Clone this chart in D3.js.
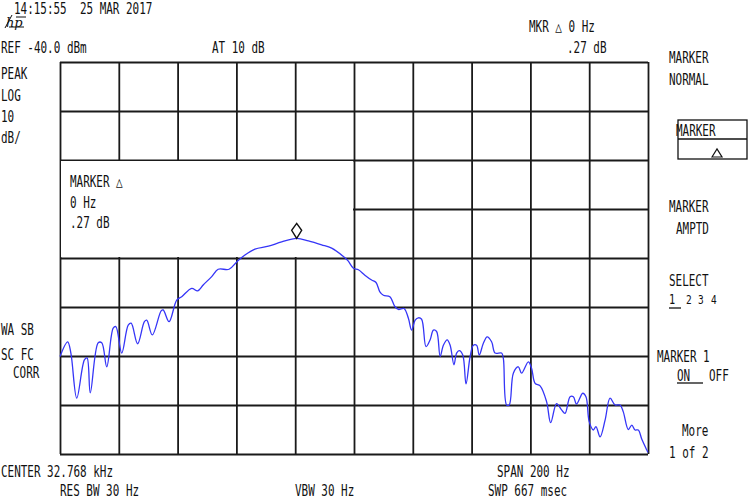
<!DOCTYPE html>
<html><head><meta charset="utf-8">
<script src="https://cdn.jsdelivr.net/npm/d3@7"></script>
<style>html,body{margin:0;padding:0;background:#fff;}svg{display:block;}text{white-space:pre;}</style>
</head><body>
<script>
// ---- data ----
const freqOffsetHz = [-100,-97.4,-96.3,-94.3,-91.7,-90.8,-89.7,-87.0,-85.8,-84.1,-81.9,-81.0,-79.0,-76.8,-75.8,-73.6,-71.3,-70.5,-68.6,-65.6,-64.9,-62.9,-60.3,-58.6,-55.2,-53.2,-51.3,-48.4,-46.2,-42.5,-39.9,-37.1,-33.7,-29.1,-24.6,-19.5,-15.5,-11.0,-7.6,-3.6,-2.0,-0.2,1.5,3.7,6.0,7.5,8.8,10.0,12.2,13.9,15.1,17.0,18.5,19.6,20.8,21.9,23.0,24.5,25.9,27.0,28.1,29.3,30.4,31.7,32.7,34.0,34.9,35.8,37.0,38.1,39.5,40.6,41.7,42.6,44.0,45.3,46.8,48.0,50.2,50.8,51.9,52.8,54.2,55.9,57.0,59.3,60.4,61.6,63.3,65.5,66.9,68.9,70.6,71.8,73.5,74.6,75.7,77.8,78.9,80.0,81.4,82.3,83.7,85.4,87.1,88.8,90.5,91.6,93.3,94.5,95.6,96.7,97.9,99.6,100];
const levelDbm = [-100.1,-97.1,-99.4,-108.6,-100.8,-100.4,-107.5,-97.3,-97.3,-102.2,-94.3,-94.0,-99.4,-93.7,-93.3,-97.5,-93.0,-92.7,-95.7,-90.8,-90.6,-93.0,-88.6,-87.9,-86.2,-86.7,-85.5,-83.8,-82.3,-82.3,-80.8,-79.4,-78.2,-77.6,-76.7,-76.0,-76.5,-77.3,-78.0,-79.7,-80.6,-82.1,-82.4,-83.5,-84.5,-85.0,-86.9,-87.6,-87.9,-89.9,-90.5,-90.3,-92.3,-94.7,-92.7,-92.2,-92.5,-98.1,-96.7,-94.7,-95.0,-100.1,-97.8,-96.7,-97.8,-101.8,-99.4,-98.9,-99.8,-105.7,-100.1,-97.8,-97.8,-99.8,-97.4,-96.1,-97.1,-99.4,-99.4,-100.5,-110.0,-110.0,-103.5,-102.2,-103.5,-101.2,-102.5,-105.6,-106.1,-109.3,-113.6,-109.7,-111.0,-111.7,-108.3,-108.3,-109.8,-107.6,-108.3,-113.4,-115.1,-114.4,-116.5,-113.1,-108.6,-110.0,-110.0,-111.4,-115.0,-114.1,-115.1,-115.1,-117.0,-119.2,-119.7];
const spanHz = [-100, 100];
const refLevelDbm = -40;
const dbPerDiv = 10;
const numDivY = 8;
const markerFreqHz = -19.5;
const markerLevelDbm = -76.0;

const headerLines = [["14:15:55  25 MAR 2017",14,14],["REF -40.0 dBm",1,53],["AT 10 dB",212,53],["MKR \u25B3 0 Hz",529,32],[".27 dB",567,53]];
const leftLines = [["PEAK",1,79],["LOG",1,101],["10",1,122],["dB/",1,143],["WA SB",1,335],["SC FC",1,360],["CORR",13,378]];
const bottomLines = [["CENTER 32.768 kHz",1,477],["RES BW 30 Hz",60,496],["VBW 30 Hz",295,496],["SPAN 200 Hz",497,477],["SWP 667 msec",488,496]];
const markerBoxLines = [["MARKER \u25B3",70,187],["0 Hz",70,208],[".27 dB",70,228]];
const softkeyLines = [["MARKER",669,63],["NORMAL",669,85],["MARKER",676,136],["MARKER",669,212],["AMPTD",676,234],["SELECT",669,286],["MARKER 1",657,362],["ON",677,381],["OFF",709,381],["More",682,436],["1 of 2",669,458]];
const selectDigits = [["1",669],["2",686],["3",698],["4",711]];

// ---- drawing ----
const W = 750, H = 499;
const svg = d3.select("body").append("svg").attr("width", W).attr("height", H);
const x = d3.scaleLinear().domain(spanHz).range([60, 648]);
const y = d3.scaleLinear().domain([refLevelDbm - dbPerDiv*numDivY, refLevelDbm]).range([454, 62]);

const gridColor = "#1a1a1a";
const xg = svg.append("g").attr("transform", "translate(0,454)")
  .call(d3.axisBottom(x).tickValues(d3.range(spanHz[0], spanHz[1] + 1, 20)).tickSize(-392).tickFormat(""));
const yg = svg.append("g").attr("transform", "translate(60,0)")
  .call(d3.axisLeft(y).tickValues(d3.range(refLevelDbm - dbPerDiv*numDivY, refLevelDbm + 1, dbPerDiv)).tickSize(-588).tickFormat(""));
[xg, yg].forEach(g => {
  g.select(".domain").remove();
  g.selectAll("line").attr("stroke", gridColor).attr("stroke-width", 1.8);
});

// marker annotation box covering grid
svg.append("rect").attr("x", x(-100) + 1).attr("y", y(-60) + 1)
  .attr("width", x(0) - x(-100) - 2).attr("height", y(-80) - y(-60) - 2).attr("fill", "#fff");

// trace
const line = d3.line().x((d, i) => x(freqOffsetHz[i])).y(d => y(d)).curve(d3.curveCatmullRom.alpha(0.5));
svg.append("path").attr("d", line(levelDbm)).attr("fill", "none")
  .attr("stroke", "#3535f7").attr("stroke-width", 1.3);

// marker diamond
const mx = x(markerFreqHz), my = y(markerLevelDbm) - 7;
svg.append("path").attr("d", `M${mx},${my-8} L${mx+5},${my-1} L${mx},${my+7} L${mx-5},${my-1} Z`)
  .attr("fill", "#fff").attr("stroke", "#111").attr("stroke-width", 1.4);

// text helper: narrow monospaced look
function txt(s, tx, ty, size) {
  svg.append("text").attr("transform", `translate(${tx},${ty}) scale(0.73,1)`)
    .attr("font-family", "DejaVu Sans Mono, monospace").attr("font-size", size || 15)
    .attr("xml:space", "preserve")
    .attr("fill", "#111").text(s);
}
[headerLines, leftLines, bottomLines, markerBoxLines, softkeyLines].forEach(arr => arr.forEach(d => txt(d[0], d[1], d[2])));

// select digits
selectDigits.forEach((d, i) => txt(d[0], d[1], 304, i === 0 ? 14 : 13));
svg.append("line").attr("x1", 669).attr("x2", 681).attr("y1", 308).attr("y2", 308).attr("stroke", "#111").attr("stroke-width", 1.3);
// ON underline
svg.append("line").attr("x1", 677).attr("x2", 703).attr("y1", 383).attr("y2", 383).attr("stroke", "#111").attr("stroke-width", 1.3);

// softkey box
svg.append("rect").attr("x", 678).attr("y", 120).attr("width", 69).attr("height", 39).attr("fill", "none").attr("stroke", "#111").attr("stroke-width", 1.3);
svg.append("line").attr("x1", 678).attr("x2", 747).attr("y1", 139).attr("y2", 139).attr("stroke", "#111").attr("stroke-width", 1.3);
svg.append("path").attr("d", "M712,157 L717,149 L722,157 Z").attr("fill", "none").attr("stroke", "#111").attr("stroke-width", 1.2);

// hp logo
svg.append("text").attr("x", 6).attr("y", 27).attr("font-family", "DejaVu Serif, serif").attr("font-style", "italic")
  .attr("font-size", 13).attr("fill", "#111").text("hp");
svg.append("path").attr("d", "M5,28 L12,15 M9,27 L24,27 M16,17 L26,17").attr("stroke", "#111").attr("stroke-width", 1).attr("fill", "none");
</script>
</body></html>
